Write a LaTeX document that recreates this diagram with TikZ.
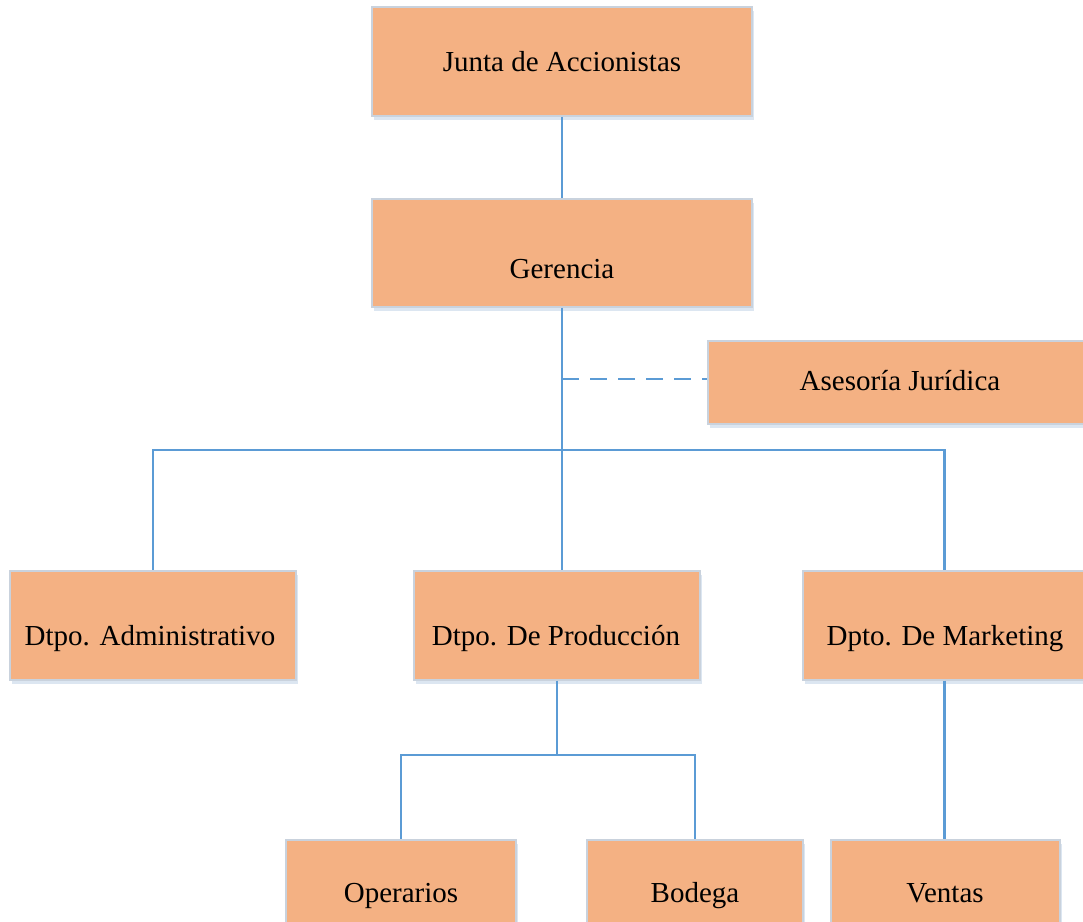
\documentclass[tikz,border=0pt]{standalone}
\usepackage{fontspec}
\setmainfont{Liberation Serif}
\usetikzlibrary{shadows}
\definecolor{boxfill}{HTML}{F4B183}
\definecolor{boxline}{HTML}{C9D2DD}
\definecolor{linkblue}{HTML}{5B9BD5}
\definecolor{shadowblue}{HTML}{9DB8D8}
\tikzset{
  unitbox/.style={rectangle, fill=boxfill, draw=boxline, line width=0.6pt, inner sep=0pt,
    drop shadow={shadow xshift=1.2pt, shadow yshift=-2pt, fill=shadowblue, opacity=0.35}},
  boxtext/.style={anchor=base, inner sep=0pt, font=\fontsize{14.5pt}{17pt}\selectfont},
  link/.style={draw=linkblue, line width=1.2pt},
  dashedlink/.style={link, dash pattern=on 8.5pt off 5.5pt},
}
\begin{document}
\begin{tikzpicture}[x=0.5pt, y=-0.5pt]
  \clip (0,0) rectangle (1083,922);
  \fill[white] (0,0) rectangle (1083,922);

  % boxes
  \node[unitbox, minimum width=190pt, minimum height=54.5pt] (jun) at (562,61.5) {};
  \node[unitbox, minimum width=190pt, minimum height=54pt]   (ger) at (562,253) {};
  \node[unitbox, minimum width=189pt, minimum height=41.5pt] (ase) at (897,382.5) {};
  \node[unitbox, minimum width=143pt, minimum height=54.5pt] (adm) at (153,625.5) {};
  \node[unitbox, minimum width=143pt, minimum height=54.5pt] (pro) at (557,625.5) {};
  \node[unitbox, minimum width=141.5pt, minimum height=54.5pt] (mkt) at (944.5,625.5) {};
  \node[unitbox, minimum width=115pt, minimum height=50pt]   (ope) at (401,890) {};
  \node[unitbox, minimum width=108pt, minimum height=50pt]   (bod) at (695,890) {};
  \node[unitbox, minimum width=114.5pt, minimum height=50pt] (ven) at (945.5,890) {};

  % labels
  \node[boxtext] (tjun) at (562,71) {Junta de Accionistas};
  \node[boxtext] (tger) at (562,278) {Gerencia};
  \node[boxtext] (tase) at (900,390) {Asesoría Jurídica};
  \node[boxtext] (tadm) at (150,645) {Dtpo. Administrativo};
  \node[boxtext] (tpro) at (556,645) {Dtpo. De Producción};
  \node[boxtext] (tmkt) at (945,645) {Dpto. De Marketing};
  \node[boxtext] (tope) at (401,902) {Operarios};
  \node[boxtext] (tbod) at (695,902) {Bodega};
  \node[boxtext] (tven) at (945,902) {Ventas};

  % junction points
  \coordinate (gj) at (562,450);
  \coordinate (aj) at (562,379);
  \coordinate (pj) at (557,755);

  % connectors
  \path[link] (jun.south) -- (ger.south |- ger.north);
  \path[link] (ger.south) -- (gj);
  \path[link] (gj) -- (gj -| adm.north) -- (adm.north);
  \path[link] (gj) -- (gj -| mkt.north) -- (mkt.north);
  \path[link] (gj) -- (gj |- pro.north);
  \path[dashedlink] (aj) -- (aj -| ase.west);
  \path[link] (pro.south) -- (pj);
  \path[link] (pj) -| (ope.north);
  \path[link] (pj) -| (bod.north);
  \path[link] (mkt.south) -- (mkt.south |- ven.north);
\end{tikzpicture}
\end{document}
